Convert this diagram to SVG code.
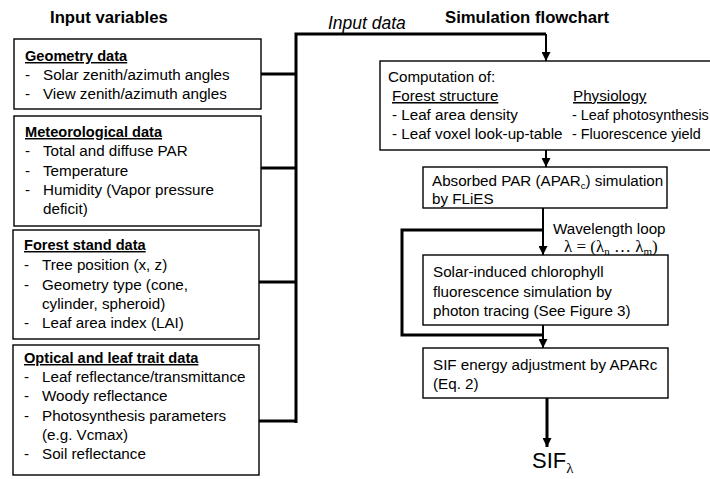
<svg xmlns="http://www.w3.org/2000/svg" width="710" height="479" viewBox="0 0 710 479">
<defs>
<marker id="arr" viewBox="0 0 10 10" refX="10" refY="5" markerWidth="10" markerHeight="9" markerUnits="userSpaceOnUse" orient="auto">
<path d="M0,0 L10,5 L0,10 z" fill="#000"/>
</marker>
</defs>
<style>
text{font-family:"Liberation Sans",Arial,sans-serif;font-size:15.2px;fill:#000}
.box{fill:#fff;stroke:#000;stroke-width:1.4}
.hd{font-weight:bold;text-decoration:underline;font-size:14.6px}
.ttl{font-weight:bold;font-size:16.7px}
.ul{text-decoration:underline}
.ph{font-size:14.4px}
.it{font-style:italic;font-size:17.5px}
.big{font-size:22px}
.srf{font-family:"Liberation Serif","Times New Roman",serif}
.bus{fill:none;stroke:#000;stroke-width:3}
.ln{fill:none;stroke:#000;stroke-width:2}
</style>
<rect width="710" height="479" fill="#fff"/>
<text class="ttl" x="50" y="23">Input variables</text>
<text class="ttl" x="445" y="23">Simulation flowchart</text>

<g id="geometry">
<rect class="box" x="14" y="39" width="247" height="70"/>
<text class="hd" x="25" y="61">Geometry data</text>
<text x="25" y="80">-</text><text x="43" y="80">Solar zenith/azimuth angles</text>
<text x="25" y="99">-</text><text x="43" y="99">View zenith/azimuth angles</text>
</g>
<g id="meteorological">
<rect class="box" x="14" y="116" width="247" height="110"/>
<text class="hd" x="25" y="137">Meteorological data</text>
<text x="25" y="156">-</text><text x="43" y="156">Total and diffuse PAR</text>
<text x="25" y="176">-</text><text x="43" y="176">Temperature</text>
<text x="25" y="195">-</text><text x="43" y="195">Humidity (Vapor pressure</text>
<text x="43" y="214">deficit)</text>
</g>
<g id="forest">
<rect class="box" x="13" y="230" width="246" height="109"/>
<text class="hd" x="24" y="250">Forest stand data</text>
<text x="24" y="270">-</text><text x="42" y="270">Tree position (x, z)</text>
<text x="24" y="290">-</text><text x="42" y="290">Geometry type (cone,</text>
<text x="42" y="309">cylinder, spheroid)</text>
<text x="24" y="328">-</text><text x="42" y="328">Leaf area index (LAI)</text>
</g>
<g id="optical">
<rect class="box" x="13" y="345" width="246" height="130"/>
<text class="hd" x="24" y="363">Optical and leaf trait data</text>
<text x="24" y="382">-</text><text x="42" y="382">Leaf reflectance/transmittance</text>
<text x="24" y="401">-</text><text x="42" y="401">Woody reflectance</text>
<text x="24" y="421">-</text><text x="42" y="421">Photosynthesis parameters</text>
<text x="42" y="440">(e.g. Vcmax)</text>
<text x="24" y="459">-</text><text x="42" y="459">Soil reflectance</text>
</g>

<g id="computation">
<rect class="box" x="380" y="61" width="345" height="89"/>
<text x="388" y="82">Computation of:</text>
<text class="ul" x="392" y="101">Forest structure</text>
<text x="392" y="120">- Leaf area density</text>
<text x="392" y="139">- Leaf voxel look-up-table</text>
<text class="ul" x="573" y="101">Physiology</text>
<text class="ph" x="572" y="120">- Leaf photosynthesis</text>
<text class="ph" x="572" y="139">- Fluorescence yield</text>
</g>
<g id="apar">
<rect class="box" x="423" y="167" width="244" height="41"/>
<text x="432" y="186">Absorbed PAR (APAR<tspan style="font-size:9.5px" dy="3">c</tspan><tspan dy="-3">) simulation</tspan></text>
<text x="432" y="204">by FLiES</text>
</g>
<g id="sifsim">
<rect class="box" x="423" y="255" width="245" height="70"/>
<text x="433" y="277">Solar-induced chlorophyll</text>
<text x="433" y="297">fluorescence simulation by</text>
<text x="433" y="316">photon tracing (See Figure 3)</text>
</g>
<g id="sifadj">
<rect class="box" x="423" y="348" width="245" height="50"/>
<text x="433" y="370">SIF energy adjustment by APARc</text>
<text x="433" y="389">(Eq. 2)</text>
</g>
<g id="output">
<text class="big" x="532" y="468">SIF<tspan class="srf" style="font-size:15px" dy="5">λ</tspan></text>
</g>

<g id="labels">
<text class="it" x="328" y="29">Input data</text>
<text x="553" y="234">Wavelength loop</text>
<text class="srf" x="564" y="252" style="font-size:17px">λ  = (λ<tspan style="font-size:11px" dy="3">n</tspan><tspan dy="-3"> … λ</tspan><tspan style="font-size:11px" dy="3">m</tspan><tspan dy="-3">)</tspan></text>
</g>

<g id="connectors">
<path class="bus" d="M261,74 H296 M261,168 H296 M259,282 H296 M259,421 H296 M296,423 V34 H546"/>
<path class="ln" d="M546,34 V61" marker-end="url(#arr)"/>
<path class="ln" d="M546,150 V167" marker-end="url(#arr)"/>
<path class="ln" d="M543,208 V255" marker-end="url(#arr)"/>
<path class="bus" d="M543,230 H402 V335 H543"/>
<path class="ln" d="M543,325 V348" marker-end="url(#arr)"/>
<path class="bus" d="M547,398 V447" marker-end="url(#arr)"/>
</g>
</svg>
